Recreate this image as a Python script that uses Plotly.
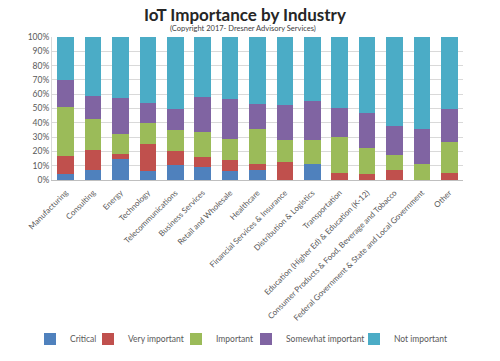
import plotly.graph_objects as go

industries = [
    "Manufacturing", "Consulting", "Energy", "Technology", "Telecommunications",
    "Business Services", "Retail and Wholesale", "Healthcare",
    "Financial Services & Insurance", "Distribution & Logistics", "Transportation",
    "Education (Higher Ed) & Education (K-12)",
    "Consumer Products & Food, Beverage and Tobacco",
    "Federal Government & State and Local Government", "Other",
]

critical = [4, 7, 14.5, 6, 10.5, 9, 6, 7, 0, 11, 0, 0, 0, 0, 0]
very_important = [13, 14, 3.5, 19, 9.5, 7.3, 8, 4, 12.5, 0, 4.7, 4, 7, 0, 4.7]
important = [34, 22, 14, 15, 15, 17, 14.6, 24.6, 15.5, 17, 25.5, 18.6, 10.4, 11, 21.6]
somewhat_important = [19, 16, 25, 14, 15, 24.6, 28, 17.4, 24.3, 27.4, 20, 24.4, 20.3, 24.6, 23.7]
not_important = [30, 41, 43, 46, 50, 42, 43.3, 47, 47.7, 44.7, 50, 53, 62.3, 64.4, 50]

series_names = ["Critical", "Very important", "Important", "Somewhat important", "Not important"]
series_values = [critical, very_important, important, somewhat_important, not_important]
series_colors = ["#4F81BD", "#C0504D", "#9BBB59", "#8064A2", "#4BACC6"]

# left position (px) of each one-item legend box
legend_left_px = [30, 88, 176, 246, 354]

font = "Lato, 'Open Sans', sans-serif"
W, H = 500, 361

fig = go.Figure()
legend_layout = {}
for i, (name, vals, color) in enumerate(zip(series_names, series_values, series_colors)):
    lname = "legend" if i == 0 else f"legend{i + 1}"
    fig.add_trace(go.Bar(
        x=industries, y=[v / 100 for v in vals], name=name,
        marker=dict(color=color, line=dict(width=0)),
        legend=lname,
    ))
    legend_layout[lname] = dict(
        xref="container", yref="container",
        x=legend_left_px[i] / W, xanchor="left",
        y=1 - 339 / H, yanchor="middle",
        bgcolor="rgba(0,0,0,0)", borderwidth=0,
        font=dict(size=8.5, color="#595959", family=font),
        itemwidth=30, orientation="h",
    )

fig.update_layout(
    barmode="stack",
    bargap=0.39,
    width=W, height=H,
    margin=dict(l=52, r=37, t=37, b=181, autoexpand=False),
    paper_bgcolor="white", plot_bgcolor="white",
    font=dict(family=font, color="#595959", size=8),
    showlegend=True,
    **legend_layout,
)

fig.add_annotation(text="<b>IoT Importance by Industry</b>", xref="paper", yref="paper",
                   x=(245 - 52) / 411, y=(180 - 14) / 143, showarrow=False,
                   font=dict(size=17, color="#262626", family=font), yanchor="middle")
fig.add_annotation(text="(Copyright 2017- Dresner Advisory Services)", xref="paper", yref="paper",
                   x=(243 - 52) / 411, y=(180 - 28) / 143, showarrow=False,
                   font=dict(size=7.5, color="#404040", family=font), yanchor="middle")

fig.update_yaxes(
    range=[0, 1], tickformat=".0%", dtick=0.1, showgrid=True, gridcolor="#D9D9D9",
    gridwidth=1, zeroline=False, showline=True, linecolor="#D9D9D9",
    tickfont=dict(size=8.5, color="#595959"), ticks="", automargin=False,
)
fig.update_xaxes(
    tickangle=-45, showline=True, linecolor="#BFBFBF",
    ticks="outside", ticklen=4, tickcolor="rgba(0,0,0,0)",
    tickfont=dict(size=8, color="#595959"), automargin=False,
)

fig.write_html("out.html", config={"displayModeBar": False},
               post_script="document.body.style.margin='0px';")
